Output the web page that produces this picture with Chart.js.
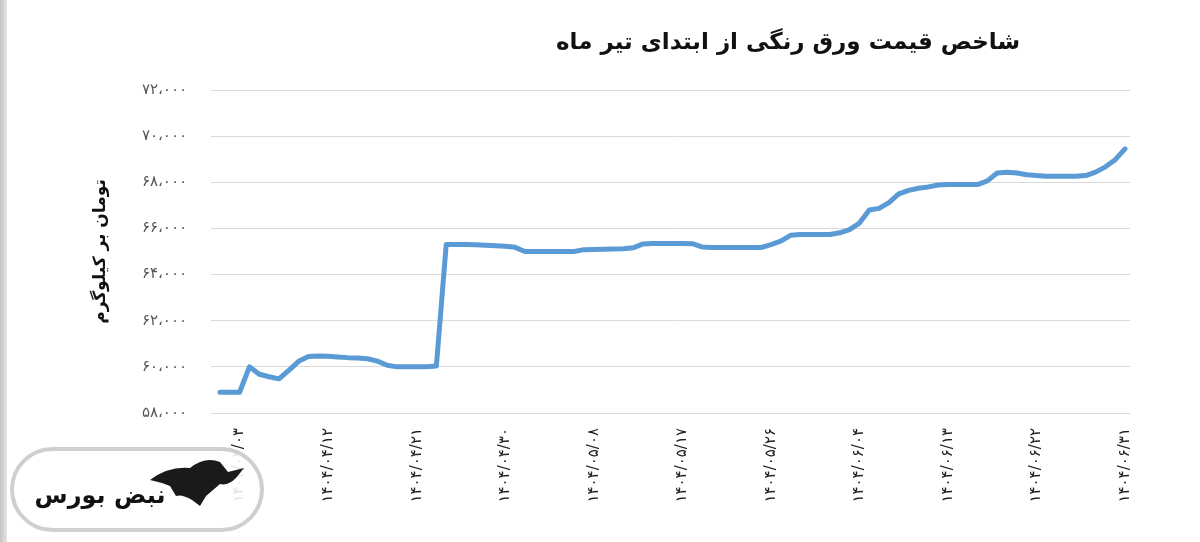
<!DOCTYPE html>
<html>
<head>
<meta charset="utf-8">
<script src="https://cdn.jsdelivr.net/npm/chart.js@4.4.1/dist/chart.umd.min.js"></script>
<style>
  html, body { margin: 0; padding: 0; background: #fff; }
  #wrap { width: 1200px; height: 542px; position: relative; }
</style>
</head>
<body>
<div id="wrap"><canvas id="ورقChart" width="1200" height="542"></canvas></div>
<script>
// عنوان و برچسب محور
const chartTitle = 'شاخص قیمت ورق رنگی از ابتدای تیر ماه';
const yAxisTitle = 'تومان بر کیلوگرم';
const brandName = 'نبض بورس';

// محور y
const yMin = 58000;
const yMax = 72000;
const yStep = 2000;

// روزهای نمایش داده شده زیر محور
const tickDates = ['1404/04/03', '1404/04/12', '1404/04/21', '1404/04/30', '1404/05/08', '1404/05/17',
    '1404/05/26', '1404/06/04', '1404/06/13', '1404/06/22', '1404/06/31'];

// قیمت روزانه از ۱۴۰۴/۰۴/۰۱ تا ۱۴۰۴/۰۶/۳۱
const prices = [
    58900, 58900, 58900, 60000, 59680, 59570, 59480, 59850, 60240, 60450,
    60470, 60460, 60430, 60400, 60380, 60350, 60250, 60070, 60000, 60000,
    60000, 60000, 60040, 65300, 65300, 65300, 65290, 65270, 65250, 65230,
    65180, 65000, 65000, 65000, 65000, 65000, 65000, 65080, 65090, 65100,
    65110, 65120, 65160, 65330, 65350, 65350, 65350, 65350, 65340, 65200,
    65170, 65170, 65170, 65170, 65170, 65170, 65300, 65450, 65700, 65740,
    65740, 65740, 65740, 65810, 65950, 66230, 66800, 66870, 67120, 67500,
    67650, 67740, 67800, 67880, 67900, 67900, 67900, 67900, 68060, 68400,
    68430, 68400, 68330, 68290, 68260, 68260, 68260, 68260, 68290, 68440,
    68670, 68980, 69450
];

// تاریخ هر نقطه
const dates = [];
for (const m of ['04', '05', '06']) {
    for (let d = 1; d <= 31; d++) {
        dates.push('1404/' + m + '/' + String(d).padStart(2, '0'));
    }
}

const faDigits = '۰۱۲۳۴۵۶۷۸۹';
function toFa(s) {
    return String(s).replace(/\d/g, d => faDigits[d]);
}
function formatPrice(v) {
    return toFa(Math.floor(v / 1000)) + '،' + toFa('000');
}

const fontFa = "'DejaVu Sans', 'Noto Sans', sans-serif";

/* عنوان، لوگو و نوار کناری */
const decorPlugin = {
    id: 'decor',
    beforeDraw(chart) {
        const c = chart.ctx;
        c.save();
        const g = c.createLinearGradient(0, 0, 7, 0);
        g.addColorStop(0, '#c4c4c4');
        g.addColorStop(1, '#e6e6e6');
        c.fillStyle = g;
        c.fillRect(0, 0, 7, chart.height);
        c.restore();
    },
    afterDraw(chart) {
        const c = chart.ctx;
        c.save();
        c.direction = 'rtl';
        c.fillStyle = '#111';
        c.font = 'bold 23px ' + fontFa;
        c.textAlign = 'center';
        c.textBaseline = 'middle';
        c.fillText(chartTitle, 788, 43);
        c.restore();

        // لوگو
        c.save();
        const x = 12, y = 449, w = 250, h = 81, r = h / 2;
        c.beginPath();
        c.moveTo(x + r, y);
        c.lineTo(x + w - r, y);
        c.arc(x + w - r, y + r, r, -Math.PI / 2, Math.PI / 2);
        c.lineTo(x + r, y + h);
        c.arc(x + r, y + r, r, Math.PI / 2, Math.PI * 1.5);
        c.closePath();
        c.fillStyle = 'rgba(255,255,255,0.88)';
        c.fill();
        c.lineWidth = 4;
        c.strokeStyle = '#cfcfcf';
        c.stroke();

        // گاو
        c.fillStyle = '#1a1a1a';
        c.beginPath();
        c.moveTo(150, 480);
        c.quadraticCurveTo(168, 466, 190, 468);
        c.quadraticCurveTo(205, 456, 220, 462);
        c.lineTo(228, 472);
        c.lineTo(244, 468);
        c.lineTo(236, 478);
        c.quadraticCurveTo(228, 486, 220, 484);
        c.lineTo(206, 496);
        c.lineTo(200, 506);
        c.lineTo(192, 500);
        c.quadraticCurveTo(182, 494, 176, 496);
        c.lineTo(170, 486);
        c.quadraticCurveTo(160, 482, 150, 480);
        c.closePath();
        c.fill();

        c.direction = 'rtl';
        c.font = 'bold 24px ' + fontFa;
        c.textAlign = 'center';
        c.textBaseline = 'middle';
        c.fillStyle = '#111';
        c.fillText(brandName, 100, 497);
        c.restore();
    }
};

const ctx = document.getElementById('ورقChart').getContext('2d');

new Chart(ctx, {
    type: 'line',
    data: {
        labels: dates,
        datasets: [{
            label: chartTitle,
            data: prices,
            borderColor: '#5b9bd5',
            backgroundColor: '#5b9bd5',
            borderWidth: 5,
            pointRadius: 0,
            pointHoverRadius: 0,
            tension: 0,
            borderJoinStyle: 'round',
            borderCapStyle: 'round',
            fill: false,
        }]
    },
    options: {
        responsive: false,
        animation: false,
        layout: {
            padding: { left: 80, right: 70, top: 90, bottom: 0 }
        },
        plugins: {
            legend: { display: false },
            tooltip: { enabled: false },
            title: { display: false },
        },
        scales: {
            x: {
                offset: true,
                grid: { display: false, drawBorder: false },
                border: { display: false },
                afterFit(scale) { scale.height = 129; },
                ticks: {
                    autoSkip: false,
                    maxRotation: 90,
                    minRotation: 90,
                    padding: 7,
                    color: '#222',
                    font: { family: fontFa, size: 15 },
                    callback(value, index) {
                        const d = dates[index];
                        return tickDates.includes(d) ? toFa(d) : '';
                    }
                }
            },
            y: {
                min: yMin,
                max: yMax,
                afterFit(scale) { scale.width = 135; },
                grid: {
                    color: '#d9d9d9',
                    lineWidth: 1,
                    tickLength: 4,
                    drawTicks: true,
                },
                border: { display: false },
                ticks: {
                    stepSize: yStep,
                    padding: 24,
                    color: '#555',
                    font: { family: fontFa, size: 15 },
                    callback: v => formatPrice(v)
                },
                title: {
                    display: true,
                    text: yAxisTitle,
                    color: '#111',
                    font: { family: fontFa, size: 17, weight: 'bold' },
                    padding: { top: 10, bottom: 0 }
                }
            }
        }
    },
    plugins: [decorPlugin]
});
</script>
</body>
</html>
